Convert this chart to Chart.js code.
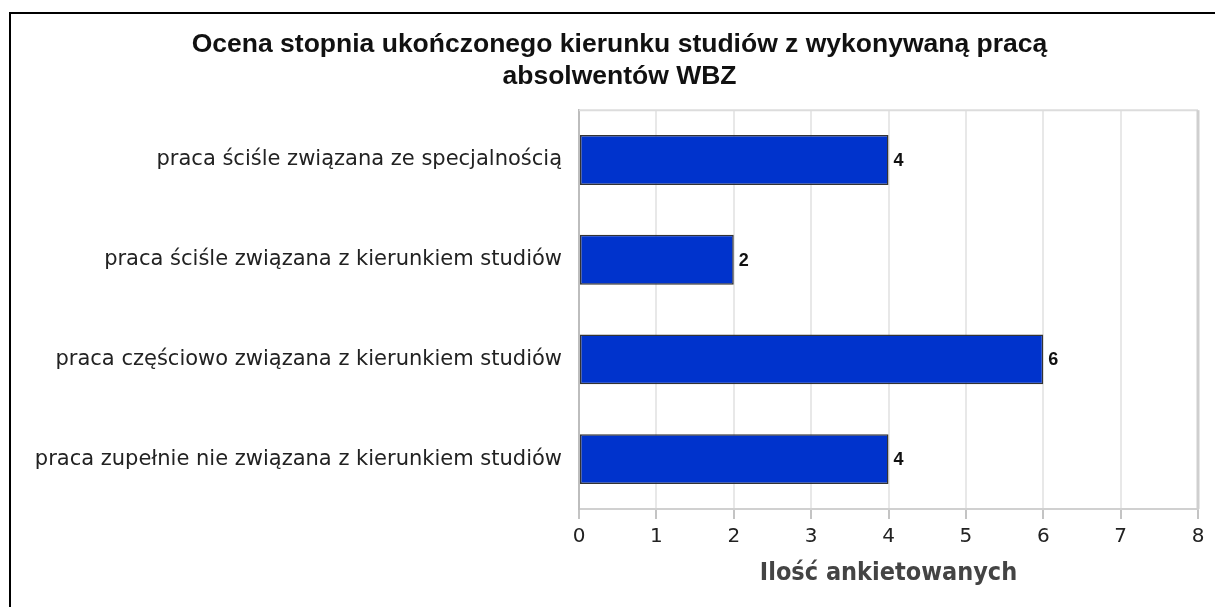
<!DOCTYPE html>
<html lang="pl">
<head>
    <meta charset="UTF-8">
    <title>Ocena stopnia ukończonego kierunku studiów</title>
    <script src="https://cdn.jsdelivr.net/npm/chart.js@4.4.1/dist/chart.umd.min.js"></script>
    <style>
        html, body {
            margin: 0;
            padding: 0;
            background: #fff;
            overflow: hidden;
        }
        #frame {
            position: absolute;
            left: 9px;
            top: 12px;
            right: 0;
            bottom: 0;
            border-left: 2px solid #000;
            border-top: 2px solid #000;
        }
        #wrap {
            position: absolute;
            left: 11px;
            top: 14px;
            width: 1204px;
            height: 593px;
        }
    </style>
</head>
<body>
<div id="frame"></div>
<div id="wrap">
    <canvas id="myChart"></canvas>
</div>

<script>
    const TITLE_LINES = [
        "Ocena stopnia ukończonego kierunku studiów z wykonywaną pracą",
        "absolwentów WBZ"
    ];
    const CATEGORIES = [
        "praca ściśle związana ze specjalnością",
        "praca ściśle związana z kierunkiem studiów",
        "praca częściowo związana z kierunkiem studiów",
        "praca zupełnie nie związana z kierunkiem studiów"
    ];
    const COUNTS = [4, 2, 6, 4];
    const X_TICKS = [0, 1, 2, 3, 4, 5, 6, 7, 8];
    const X_TITLE = "Ilość ankietowanych";

    // value labels next to each bar
    const valueLabels = {
        id: "valueLabels",
        afterDatasetsDraw(chart) {
            const ctx = chart.ctx;
            const meta = chart.getDatasetMeta(0);
            ctx.save();
            ctx.font = "bold 18px 'Liberation Sans', Arial, sans-serif";
            ctx.fillStyle = "#111";
            ctx.textAlign = "left";
            ctx.textBaseline = "middle";
            meta.data.forEach((bar, i) => {
                ctx.fillText(String(COUNTS[i]), bar.x + 5, bar.y + 1);
            });
            ctx.restore();
        }
    };

    // light frame round the plot area
    const plotFrame = {
        id: "plotFrame",
        afterLayout(chart) {
            // title is centred a little right of the canvas middle
            chart.titleBlock.left += 20;
        },
        beforeDatasetsDraw(chart) {
            const a = chart.chartArea;
            const ctx = chart.ctx;
            ctx.save();
            ctx.strokeStyle = "#dcdcdc";
            ctx.lineWidth = 2;
            ctx.beginPath();
            ctx.moveTo(a.left, a.top);
            ctx.lineTo(a.right, a.top);
            ctx.stroke();
            ctx.strokeStyle = "#cfcfcf";
            ctx.lineWidth = 3;
            ctx.beginPath();
            ctx.moveTo(a.right, a.top);
            ctx.lineTo(a.right, a.bottom);
            ctx.stroke();
            ctx.restore();
        }
    };

    new Chart(document.getElementById("myChart"), {
        type: "bar",
        data: {
            labels: CATEGORIES,
            datasets: [{
                data: COUNTS,
                backgroundColor: "#0033cc",
                borderColor: "#333",
                borderWidth: 1.5,
                borderSkipped: false,
                categoryPercentage: 0.5,
                barPercentage: 1
            }]
        },
        options: {
            indexAxis: "y",
            responsive: true,
            maintainAspectRatio: false,
            animation: false,
            layout: {
                padding: { left: 10, right: 17, top: 0, bottom: 0 }
            },
            plugins: {
                legend: { display: false },
                tooltip: { enabled: false },
                title: {
                    display: true,
                    text: TITLE_LINES,
                    color: "#111",
                    font: { family: "'Liberation Sans', Arial, sans-serif", size: 26.5, weight: "bold", lineHeight: 1.21 },
                    padding: { top: 15, bottom: 17 }
                }
            },
            scales: {
                x: {
                    min: X_TICKS[0],
                    max: X_TICKS[X_TICKS.length - 1],
                    afterBuildTicks(scale) {
                        scale.ticks = X_TICKS.map(v => ({ value: v }));
                    },
                    afterFit(scale) {
                        scale.height = 98;
                    },
                    grid: {
                        color: "#e8e8e8",
                        lineWidth: 2,
                        drawTicks: true,
                        tickLength: 10,
                        tickColor: "#c4c4c4",
                        tickWidth: 2
                    },
                    border: { display: true, color: "#d0d0d0", width: 2 },
                    ticks: {
                        color: "#222",
                        padding: 6,
                        font: { family: "'DejaVu Sans', sans-serif", size: 20 }
                    },
                    title: {
                        display: true,
                        text: X_TITLE,
                        color: "#444",
                        padding: { top: 0, bottom: 19 },
                        font: { family: "'Liberation Sans Narrow', 'DejaVu Sans Condensed', sans-serif", size: 25, weight: "bold" }
                    }
                },
                y: {
                    afterFit(scale) {
                        scale.width = 558;
                    },
                    grid: { display: false, drawTicks: false },
                    border: { display: true, color: "#bdbdbd", width: 2 },
                    ticks: {
                        color: "#222",
                        padding: 17,
                        font: { family: "'DejaVu Sans', sans-serif", size: 21 }
                    }
                }
            }
        },
        plugins: [plotFrame, valueLabels]
    });
</script>
</body>
</html>
